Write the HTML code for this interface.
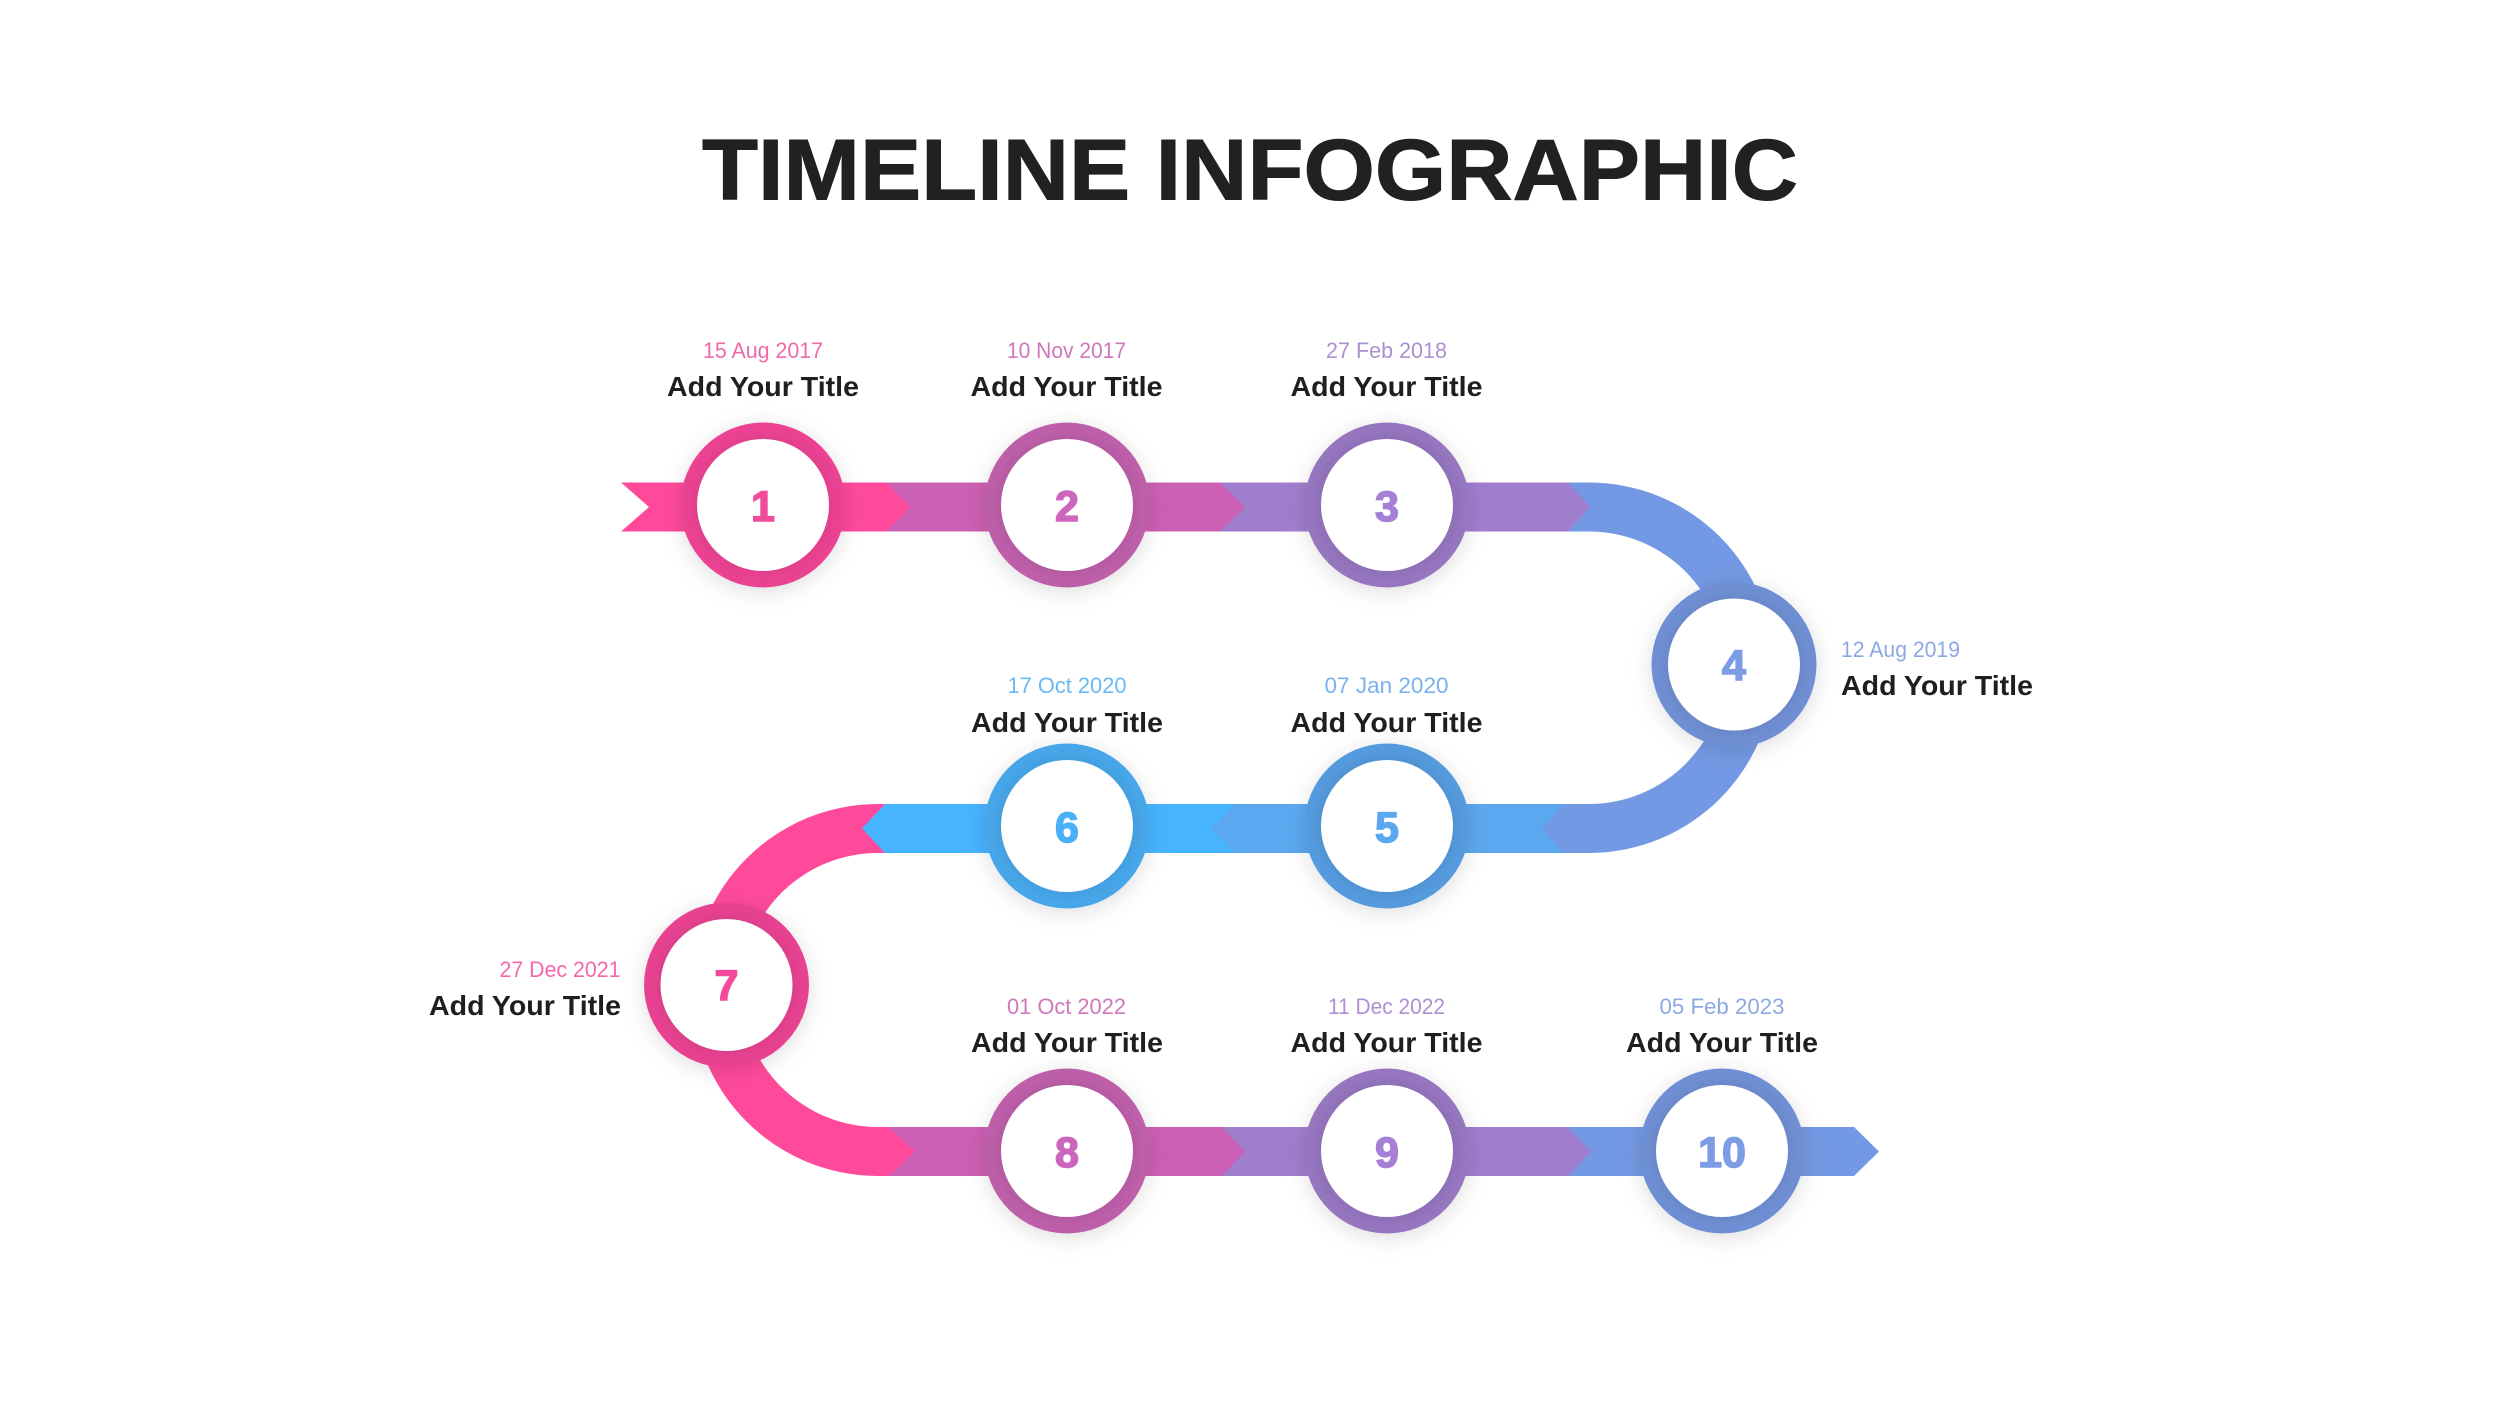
<!DOCTYPE html>
<html><head><meta charset="utf-8"><style>
html,body{margin:0;padding:0;background:#fff}
svg{display:block}
text{font-family:"Liberation Sans",sans-serif}
.t{font-weight:700;font-size:28px;fill:#1f1f1f}
.d{font-size:22px}
.n{font-weight:700;font-size:43px;text-anchor:middle;stroke-width:1.5}
.m{text-anchor:middle}
</style></head><body>
<svg width="2500" height="1406" viewBox="0 0 2500 1406" xmlns="http://www.w3.org/2000/svg">
<defs>
<filter id="s" x="-40%" y="-40%" width="180%" height="180%"><feDropShadow dx="0" dy="4" stdDeviation="11" flood-color="#000" flood-opacity=".13"/></filter>
<filter id="w" x="-30%" y="-30%" width="160%" height="160%"><feDropShadow dx="0" dy="0" stdDeviation="8" flood-color="#000" flood-opacity=".11"/></filter>
</defs>
<rect width="2500" height="1406" fill="#fff"/>
<text x="702" y="199.5" font-size="86" font-weight="700" fill="#212121" stroke="#212121" stroke-width="1" textLength="1096" lengthAdjust="spacingAndGlyphs">TIMELINE INFOGRAPHIC</text>

<!-- row 3 -->
<polygon points="1550,1127 1854,1127 1879,1151.5 1854,1176 1550,1176" fill="#7499E4"/>
<polygon points="1200,1127 1568,1127 1591,1151.5 1568,1176 1200,1176" fill="#A07ECE"/>
<polygon points="880,1127 1222,1127 1245,1151.5 1222,1176 880,1176" fill="#CC60B4"/>
<!-- pink curve -->
<path d="M895,804 H878 A186,186 0 0 0 878,1176 H888 L915,1151.5 L888,1127 H878 A137,137 0 0 1 878,853 H895 Z" fill="#FF4A9B"/>
<!-- row 2 -->
<polygon points="885,804 1280,804 1280,853 885,853 862,828.5" fill="#47B4FF"/>
<polygon points="1235,804 1570,804 1570,853 1235,853 1211,828.5" fill="#5CA8F0"/>
<!-- blue curve -->
<path d="M1550,482.5 H1589 A185.25,185.25 0 0 1 1589,853 H1564 L1542.5,828.5 L1564,804 H1589 A136.25,136.25 0 0 0 1589,531.5 H1550 Z" fill="#7499E4"/>
<!-- row 1 -->
<polygon points="1200,482.5 1568,482.5 1590,507 1568,531.5 1200,531.5" fill="#A07ECE"/>
<polygon points="880,482.5 1220,482.5 1245,507 1220,531.5 880,531.5" fill="#CC60B4"/>
<polygon points="621,482.5 886,482.5 910,507 886,531.5 621,531.5 649,507" fill="#FF4A9B"/>

<!-- circles -->
<g filter="url(#s)"><circle cx="763" cy="505" r="82.5" fill="#EC4293"/></g><circle cx="763" cy="505" r="66" fill="#fff" filter="url(#w)"/>
<g filter="url(#s)"><circle cx="1067" cy="505" r="82.5" fill="#BE5EAA"/></g><circle cx="1067" cy="505" r="66" fill="#fff" filter="url(#w)"/>
<g filter="url(#s)"><circle cx="1387" cy="505" r="82.5" fill="#9676C0"/></g><circle cx="1387" cy="505" r="66" fill="#fff" filter="url(#w)"/>
<g filter="url(#s)"><circle cx="1734" cy="664.5" r="82.5" fill="#6F8FD4"/></g><circle cx="1734" cy="664.5" r="66" fill="#fff" filter="url(#w)"/>
<g filter="url(#s)"><circle cx="1387" cy="826" r="82.5" fill="#559BDE"/></g><circle cx="1387" cy="826" r="66" fill="#fff" filter="url(#w)"/>
<g filter="url(#s)"><circle cx="1067" cy="826" r="82.5" fill="#46A7EA"/></g><circle cx="1067" cy="826" r="66" fill="#fff" filter="url(#w)"/>
<g filter="url(#s)"><circle cx="726.5" cy="985" r="82.5" fill="#E84391"/></g><circle cx="726.5" cy="985" r="66" fill="#fff" filter="url(#w)"/>
<g filter="url(#s)"><circle cx="1067" cy="1151" r="82.5" fill="#BE5EAA"/></g><circle cx="1067" cy="1151" r="66" fill="#fff" filter="url(#w)"/>
<g filter="url(#s)"><circle cx="1387" cy="1151" r="82.5" fill="#9676C0"/></g><circle cx="1387" cy="1151" r="66" fill="#fff" filter="url(#w)"/>
<g filter="url(#s)"><circle cx="1722" cy="1151" r="82.5" fill="#6F8FD4"/></g><circle cx="1722" cy="1151" r="66" fill="#fff" filter="url(#w)"/>

<!-- numbers -->
<text class="n" x="763" y="521" fill="#F04C9C" stroke="#F04C9C">1</text>
<text class="n" x="1067" y="521" fill="#CC66BC" stroke="#CC66BC">2</text>
<text class="n" x="1387" y="521" fill="#A580D6" stroke="#A580D6">3</text>
<text class="n" x="1734" y="680" fill="#7C9DE6" stroke="#7C9DE6">4</text>
<text class="n" x="1387" y="842" fill="#5CA8F0" stroke="#5CA8F0">5</text>
<text class="n" x="1067" y="842" fill="#4CB0F8" stroke="#4CB0F8">6</text>
<text class="n" x="726.5" y="1000" fill="#F44A9C" stroke="#F44A9C">7</text>
<text class="n" x="1067" y="1167" fill="#CC66BC" stroke="#CC66BC">8</text>
<text class="n" x="1387" y="1167" fill="#A580D6" stroke="#A580D6">9</text>
<text class="n" x="1722" y="1167" fill="#7C9DE6" stroke="#7C9DE6">10</text>

<!-- labels -->
<text class="d m" x="763" y="358" fill="#EE69AB" textLength="120" lengthAdjust="spacingAndGlyphs">15 Aug 2017</text>
<text class="t m" x="763" y="396" textLength="192" lengthAdjust="spacingAndGlyphs">Add Your Title</text>
<text class="d m" x="1066.5" y="358" fill="#CE77BB" textLength="119" lengthAdjust="spacingAndGlyphs">10 Nov 2017</text>
<text class="t m" x="1066.5" y="396" textLength="192" lengthAdjust="spacingAndGlyphs">Add Your Title</text>
<text class="d m" x="1386.5" y="358" fill="#AC90CF" textLength="121" lengthAdjust="spacingAndGlyphs">27 Feb 2018</text>
<text class="t m" x="1386.5" y="396" textLength="192" lengthAdjust="spacingAndGlyphs">Add Your Title</text>
<text class="d" x="1841" y="657" fill="#8CA9E3" textLength="119" lengthAdjust="spacingAndGlyphs">12 Aug 2019</text>
<text class="t" x="1841" y="695" textLength="192" lengthAdjust="spacingAndGlyphs">Add Your Title</text>
<text class="d m" x="1386.5" y="693" fill="#7BB1EC" textLength="124" lengthAdjust="spacingAndGlyphs">07 Jan 2020</text>
<text class="t m" x="1386.5" y="732" textLength="192" lengthAdjust="spacingAndGlyphs">Add Your Title</text>
<text class="d m" x="1067" y="693" fill="#69B9F3" textLength="119" lengthAdjust="spacingAndGlyphs">17 Oct 2020</text>
<text class="t m" x="1067" y="732" textLength="192" lengthAdjust="spacingAndGlyphs">Add Your Title</text>
<text class="d" x="499.5" y="977" fill="#F566AB" textLength="121" lengthAdjust="spacingAndGlyphs">27 Dec 2021</text>
<text class="t" x="429" y="1015" textLength="192" lengthAdjust="spacingAndGlyphs">Add Your Title</text>
<text class="d m" x="1066.5" y="1014" fill="#CE77BB" textLength="119" lengthAdjust="spacingAndGlyphs">01 Oct 2022</text>
<text class="t m" x="1067" y="1052" textLength="192" lengthAdjust="spacingAndGlyphs">Add Your Title</text>
<text class="d m" x="1386.5" y="1014" fill="#AC90CF" textLength="117" lengthAdjust="spacingAndGlyphs">11 Dec 2022</text>
<text class="t m" x="1386.5" y="1052" textLength="192" lengthAdjust="spacingAndGlyphs">Add Your Title</text>
<text class="d m" x="1722" y="1014" fill="#8CA9E3" textLength="125" lengthAdjust="spacingAndGlyphs">05 Feb 2023</text>
<text class="t m" x="1722" y="1052" textLength="192" lengthAdjust="spacingAndGlyphs">Add Your Title</text>
</svg>
</body></html>
